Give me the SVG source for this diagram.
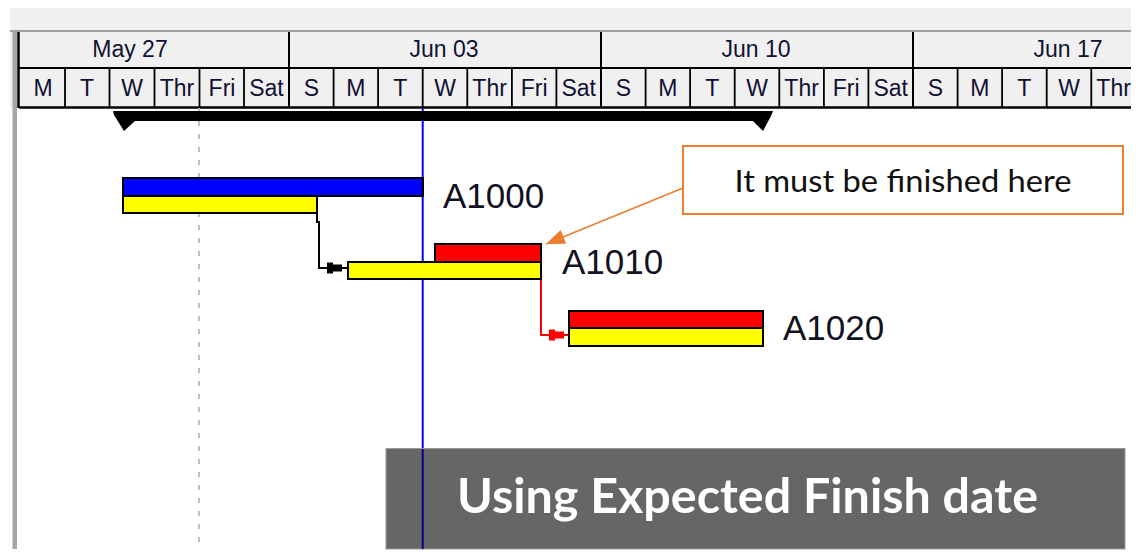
<svg xmlns="http://www.w3.org/2000/svg" width="1140" height="559" viewBox="0 0 1140 559">
  <style>
    .hdr { font-family: "Liberation Sans", Arial, sans-serif; font-size: 23px; fill: #111133; text-anchor: middle; }
    .lbl { font-family: "Liberation Sans", Arial, sans-serif; font-size: 35px; fill: #111122; }
    .bar { stroke: #000; stroke-width: 2; }
    .blue { fill: #0000ff; }
    .yel { fill: #ffff00; }
    .red { fill: #ff0000; }
    .grid { stroke: #000; fill: none; }
    .link { fill: none; stroke-width: 2; }
  </style>
  <defs>
    <marker id="fsBlack" viewBox="-22 -6 22 12" markerWidth="22" markerHeight="12" refX="0" refY="0" orient="auto" markerUnits="userSpaceOnUse">
      <path d="M-20,-5.5 L-14,-5.5 L-14,-3.5 L-5,-3.5 L-5,3.5 L-14,3.5 L-14,5.5 L-20,5.5 Z" fill="#000"/>
    </marker>
    <marker id="fsRed" viewBox="-22 -6 22 12" markerWidth="22" markerHeight="12" refX="0" refY="0" orient="auto" markerUnits="userSpaceOnUse">
      <path d="M-20,-5.5 L-14,-5.5 L-14,-3.5 L-5,-3.5 L-5,3.5 L-14,3.5 L-14,5.5 L-20,5.5 Z" fill="#ff0000"/>
    </marker>
    <marker id="orangeHead" viewBox="0 0 10 10" markerWidth="19" markerHeight="15" refX="10" refY="5" orient="auto" markerUnits="userSpaceOnUse" preserveAspectRatio="none">
      <path d="M0,0 L10,5 L0,10 Z" fill="#ed7d31"/>
    </marker>
  </defs>

  <rect x="0" y="0" width="1140" height="559" fill="#ffffff"/>

  <!-- header -->
  <g id="timescale">
    <rect x="10" y="8" width="1121" height="100" fill="#f0f0f0"/>
    <line x1="10" y1="31" x2="1131" y2="31" stroke="#a0a0a0" stroke-width="2"/>
    <rect x="12.5" y="30" width="4.5" height="519" fill="#a6a6a6"/>
    <line x1="18.5" y1="32" x2="18.5" y2="108" stroke="#000" stroke-width="2.5"/>
    <line x1="19" y1="68" x2="1131" y2="68" stroke="#000" stroke-width="2"/>
    <line x1="19" y1="107.5" x2="1131" y2="107.5" stroke="#000" stroke-width="2.5"/>
    <path class="grid" stroke-width="1.8" d="M65,68V107 M109.5,68V107 M154.5,68V107 M199.5,68V107 M244,68V107 M333.6,68V107 M378.1,68V107 M422.7,68V107 M467.3,68V107 M511.9,68V107 M556.4,68V107 M645.6,68V107 M690.1,68V107 M734.7,68V107 M779.3,68V107 M823.9,68V107 M868.4,68V107 M957.6,68V107 M1002.1,68V107 M1046.7,68V107 M1091.3,68V107"/>
    <path class="grid" stroke-width="2" d="M289,32V107 M601,32V107 M913,32V107"/>
    <text class="hdr" x="130" y="57">May 27</text>
    <text class="hdr" x="444" y="57">Jun 03</text>
    <text class="hdr" x="756" y="57">Jun 10</text>
    <text class="hdr" x="1068" y="57">Jun 17</text>
    <text class="hdr" x="43" y="96">M</text>
    <text class="hdr" x="87" y="96">T</text>
    <text class="hdr" x="132" y="96">W</text>
    <text class="hdr" x="177" y="96">Thr</text>
    <text class="hdr" x="222" y="96">Fri</text>
    <text class="hdr" x="266.5" y="96">Sat</text>
    <text class="hdr" x="311.3" y="96">S</text>
    <text class="hdr" x="355.9" y="96">M</text>
    <text class="hdr" x="400.4" y="96">T</text>
    <text class="hdr" x="445" y="96">W</text>
    <text class="hdr" x="489.6" y="96">Thr</text>
    <text class="hdr" x="534.1" y="96">Fri</text>
    <text class="hdr" x="578.7" y="96">Sat</text>
    <text class="hdr" x="623.3" y="96">S</text>
    <text class="hdr" x="667.9" y="96">M</text>
    <text class="hdr" x="712.4" y="96">T</text>
    <text class="hdr" x="757" y="96">W</text>
    <text class="hdr" x="801.6" y="96">Thr</text>
    <text class="hdr" x="846.1" y="96">Fri</text>
    <text class="hdr" x="890.7" y="96">Sat</text>
    <text class="hdr" x="935.3" y="96">S</text>
    <text class="hdr" x="979.9" y="96">M</text>
    <text class="hdr" x="1024.4" y="96">T</text>
    <text class="hdr" x="1069" y="96">W</text>
    <text class="hdr" x="1113.6" y="96">Thr</text>
  </g>

  <!-- gridlines -->
  <g id="gridlines">
    <line x1="199" y1="108" x2="199" y2="549" stroke="#c0c0c0" stroke-width="2" stroke-dasharray="5 8"/>
    <line x1="422.7" y1="108" x2="422.7" y2="549" stroke="#0000ff" stroke-width="2"/>
  </g>

  <!-- summary bar -->
  <g id="summary">
    <polygon points="113,111 773,111 771,116 763,131 753,121 135,121 124,131 114,115" fill="#000"/>
  </g>

  <!-- connectors -->
  <g id="connectors">
    <path class="link" stroke="#000" d="M317,213 V222 H319 V268 H347" marker-end="url(#fsBlack)"/>
    <path class="link" stroke="#ff0000" d="M541,279 V335 H569" marker-end="url(#fsRed)"/>
    <line x1="683" y1="188" x2="546" y2="244" stroke="#ed7d31" stroke-width="1.6" marker-end="url(#orangeHead)"/>
  </g>

  <!-- tasks -->
  <g id="A1000">
    <rect class="bar blue" x="123" y="178" width="300" height="18"/>
    <rect class="bar yel" x="123" y="196" width="194" height="17"/>
    <text class="lbl" x="443" y="208">A1000</text>
  </g>
  <g id="A1010">
    <rect class="bar red" x="435" y="244" width="106" height="18"/>
    <rect class="bar yel" x="348" y="262" width="193" height="17"/>
    <text class="lbl" x="562" y="274">A1010</text>
  </g>
  <g id="A1020">
    <rect class="bar red" x="569" y="311" width="194" height="17"/>
    <rect class="bar yel" x="569" y="328" width="194" height="18"/>
    <text class="lbl" x="783" y="340">A1020</text>
  </g>

  <!-- callout -->
  <g id="callout">
    <rect x="683" y="146" width="440" height="68" fill="#ffffff" stroke="#ed7d31" stroke-width="2"/>
    <text x="903" y="192" text-anchor="middle" font-family="Lato, 'Open Sans', sans-serif" font-size="30" fill="#111" textLength="337" lengthAdjust="spacingAndGlyphs">It must be finished here</text>
  </g>

  <!-- caption -->
  <g id="caption">
    <rect x="386" y="448.5" width="739" height="100.5" fill="#666666" stroke="#9a9a9a" stroke-width="1"/>
    <line x1="422.7" y1="449" x2="422.7" y2="549" stroke="#00008a" stroke-width="2"/>
    <text x="457" y="513" font-family="Lato, 'Open Sans', sans-serif" font-weight="bold" font-size="48" fill="#ffffff" textLength="581" lengthAdjust="spacingAndGlyphs">Using Expected Finish date</text>
  </g>
</svg>
